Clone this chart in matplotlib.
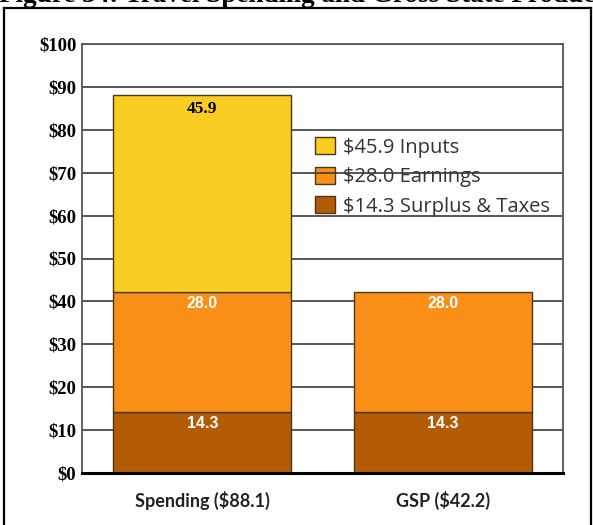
import matplotlib
matplotlib.use('Agg')
import matplotlib.pyplot as plt
from matplotlib.lines import Line2D
import numpy as np

plt.rcParams['text.parse_math'] = False

# ---------------------------------------------------------------------------
# data
categories = ['Spending ($88.1)', 'GSP ($42.2)']
surplus = [14.3, 14.3]
earnings = [28.0, 28.0]
inputs = [45.9, 0.0]
legend_labels = ['$45.9 Inputs', '$28.0 Earnings', '$14.3 Surplus & Taxes']
yticks = [0, 10, 20, 30, 40, 50, 60, 70, 80, 90, 100]

# ---------------------------------------------------------------------------
c_in = '#F9CD22'
c_earn = '#F98F16'
c_sur = '#B25A04'
edge = '#4a3818'

W, H = 593, 525
fig = plt.figure(figsize=(W / 100, H / 100), dpi=100)
ax = fig.add_axes([82 / W, (H - 473) / H, 481 / W, 429 / H])

x = np.arange(len(categories))
bw = 0.74
b1 = ax.bar(x, surplus, bw, color=c_sur, edgecolor=edge, lw=1, zorder=2)
b2 = ax.bar(x, earnings, bw, bottom=surplus, color=c_earn, edgecolor=edge, lw=1, zorder=2)
bot3 = [s + e for s, e in zip(surplus, earnings)]
b3 = ax.bar(x[:1], inputs[:1], bw, bottom=bot3[:1], color=c_in, edgecolor=edge, lw=1, zorder=2)

# labels inside segments
for i in range(len(categories)):
    ax.annotate('%.1f' % surplus[i], (x[i], surplus[i]), xytext=(0, -12),
                textcoords='offset pixels', ha='center', va='center',
                color='white', fontsize=11.5, fontweight='bold',
                family='Liberation Sans', zorder=3)
    ax.annotate('%.1f' % earnings[i], (x[i], bot3[i]), xytext=(0, -12),
                textcoords='offset pixels', ha='center', va='center',
                color='white', fontsize=11.5, fontweight='bold',
                family='Liberation Sans', zorder=3)
    if inputs[i] > 0:
        ax.annotate('%.1f' % inputs[i], (x[i], bot3[i] + inputs[i]), xytext=(0, -14),
                    textcoords='offset pixels', ha='center', va='center',
                    color='black', fontsize=12.5, fontweight='bold',
                    family='Liberation Serif', zorder=3)

ax.set_xlim(-0.5, 1.5)
ax.set_ylim(0, 100)
ax.set_yticks(yticks)
ax.set_yticklabels(['$%d' % v for v in yticks], family='Liberation Serif',
                   fontweight='bold', fontsize=13.5)
ax.set_xticks(x)
ax.set_xticklabels(categories, family='Lato', fontweight='bold', fontsize=13,
                   color='#222222')
ax.tick_params(axis='both', length=0)
ax.tick_params(axis='y', pad=4)
ax.tick_params(axis='x', pad=13)

ax.set_axisbelow(True)
ax.yaxis.grid(True, color='#3a3a3a', lw=1.2)
for s in ['left', 'top', 'right']:
    ax.spines[s].set_color('#555555')
    ax.spines[s].set_linewidth(1.3)
ax.spines['bottom'].set_color('black')
ax.spines['bottom'].set_linewidth(2.2)

leg = ax.legend([b3, b2, b1], legend_labels, loc='upper left',
                bbox_to_anchor=(0.484, 0.783), frameon=False,
                prop={'family': 'Open Sans', 'size': 14.5}, labelcolor='#333333',
                borderpad=0, borderaxespad=0, handlelength=1.0,
                handleheight=0.95, handletextpad=0.4, labelspacing=0.44)
leg.set_zorder(0.3)

# title (cut off at the top) and outer frame
fig.text(-0.002, 1 - 2.0 / H, 'Figure 34: Travel Spending and Gross State Product',
         family='Liberation Serif', fontweight='bold', fontsize=19.5,
         ha='left', va='baseline')
fig.add_artist(Line2D([4 / W, 4 / W], [0, 1 - 8 / H], color='black', lw=1.6))
fig.add_artist(Line2D([4 / W, 591 / W], [1 - 8 / H, 1 - 8 / H], color='black', lw=1.6))
fig.add_artist(Line2D([591 / W, 591 / W], [0, 1 - 8 / H], color='black', lw=1.6))

fig.savefig('out.png', dpi=100)
